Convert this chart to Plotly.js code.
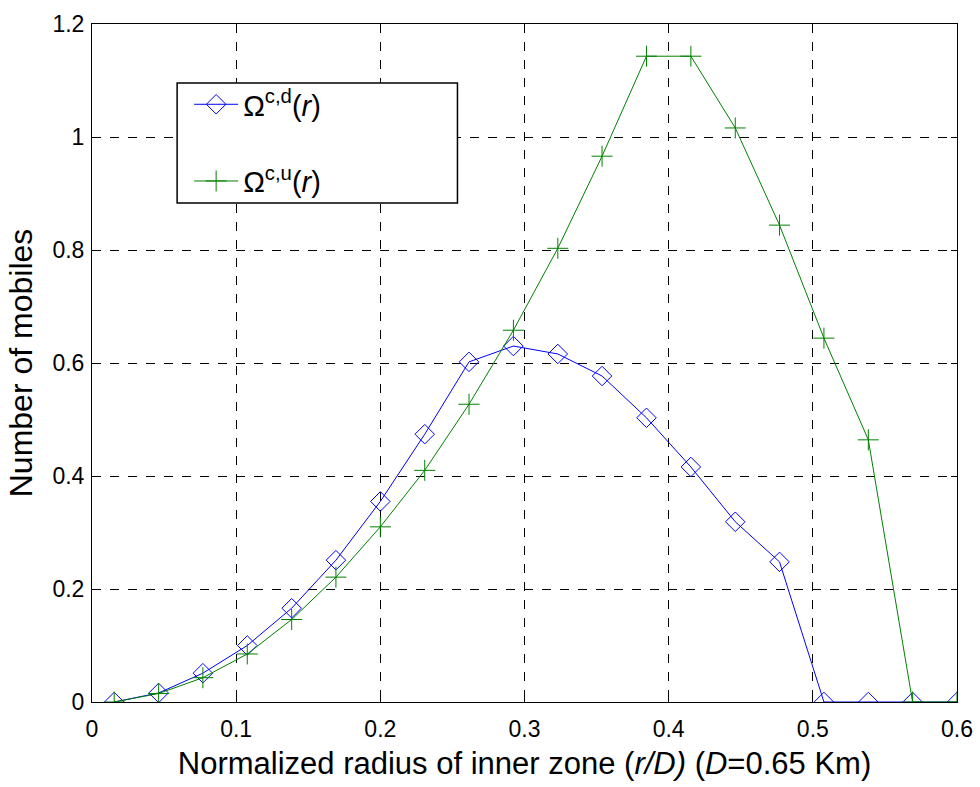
<!DOCTYPE html>
<html>
<head>
<meta charset="utf-8">
<script src="https://cdn.plot.ly/plotly-3.0.1.min.js"></script>
<style>html,body{margin:0;padding:0;background:#fff;}#chart{width:980px;height:787px;}</style>
</head>
<body>
<div id="chart"></div>
<script>
var radius = [0.0154, 0.0462, 0.0769, 0.1077, 0.1385, 0.1692, 0.2000, 0.2308, 0.2615, 0.2923,
              0.3231, 0.3538, 0.3846, 0.4154, 0.4462, 0.4769, 0.5077, 0.5385, 0.5692, 0.6000];
var omegaDown = [0.0, 0.016, 0.051, 0.100, 0.166, 0.251, 0.355, 0.474, 0.602, 0.630,
                 0.616, 0.577, 0.503, 0.416, 0.319, 0.248, 0.0, 0.0, 0.0, 0.0];
var omegaUp = [0.0, 0.015, 0.043, 0.085, 0.146, 0.221, 0.310, 0.410, 0.527, 0.658,
               0.803, 0.966, 1.143, 1.143, 1.016, 0.844, 0.644, 0.464, 0.0, 0.0];
var seriesNames = ['Ω<sup>c,d</sup>(<i>r</i>)', 'Ω<sup>c,u</sup>(<i>r</i>)'];
var xTicks = [0, 0.1, 0.2, 0.3, 0.4, 0.5, 0.6];
var yTicks = [0, 0.2, 0.4, 0.6, 0.8, 1, 1.2];

var FONT = 'Liberation Sans, Arial, sans-serif';

var traces = [
  {x: radius, y: omegaDown, name: seriesNames[0], mode: 'lines+markers', legendgroup: 'a',
   line: {color: '#0000ff', width: 1},
   marker: {symbol: 'diamond-open', size: 15, color: '#0000ff', line: {width: 1, color: '#0000ff'}}},
  {x: radius, y: omegaUp, name: seriesNames[1], mode: 'lines+markers', legendgroup: 'b',
   line: {color: '#008000', width: 1},
   marker: {symbol: 'cross-thin-open', size: 15, color: '#008000', line: {width: 1, color: '#008000'}}}
];

var axisCommon = {
  showline: true, linecolor: '#000', linewidth: 1, mirror: 'ticks',
  ticks: 'inside', ticklen: 6, tickcolor: '#000',
  showgrid: true, gridcolor: '#000', griddash: 'dash', gridwidth: 1,
  zeroline: false,
  tickfont: {family: FONT, size: 23, color: '#000'}
};

var layout = {
  width: 980, height: 787,
  margin: {l: 92, r: 23, t: 24, b: 85},
  paper_bgcolor: '#fff', plot_bgcolor: '#fff',
  font: {family: FONT, color: '#000'},
  xaxis: Object.assign({}, axisCommon, {
    range: [0, 0.6], tickvals: xTicks, ticktext: xTicks.map(String),
    ticklabelstandoff: 6,
    title: {text: 'Normalized radius of inner zone (<i>r/D)</i> (<i>D</i>=0.65 Km)',
            font: {size: 31, family: FONT, color: '#000'}, standoff: 11}
  }),
  yaxis: Object.assign({}, axisCommon, {
    range: [0, 1.2], tickvals: yTicks, ticktext: yTicks.map(String),
    ticklabelstandoff: 2,
    title: {text: 'Number of mobiles',
            font: {size: 32, family: FONT, color: '#000'}, standoff: 10}
  }),
  showlegend: true,
  legend: {
    x: 0.1123, y: 0.919, xanchor: 'left', yanchor: 'top',
    bgcolor: 'rgba(0,0,0,0)', borderwidth: 0,
    font: {size: 29, family: FONT, color: '#000'},
    traceorder: 'grouped', tracegroupgap: 36, itemwidth: 44
  },
  shapes: [
    {type: 'rect', xref: 'paper', yref: 'paper', layer: 'above',
     x0: 0.0984, x1: 0.4225, y0: 0.736, y1: 0.913,
     line: {color: '#000', width: 1.5}, fillcolor: '#fff'}
  ]
};

Plotly.newPlot('chart', traces, layout, {displayModeBar: false, staticPlot: true});
</script>
</body>
</html>
